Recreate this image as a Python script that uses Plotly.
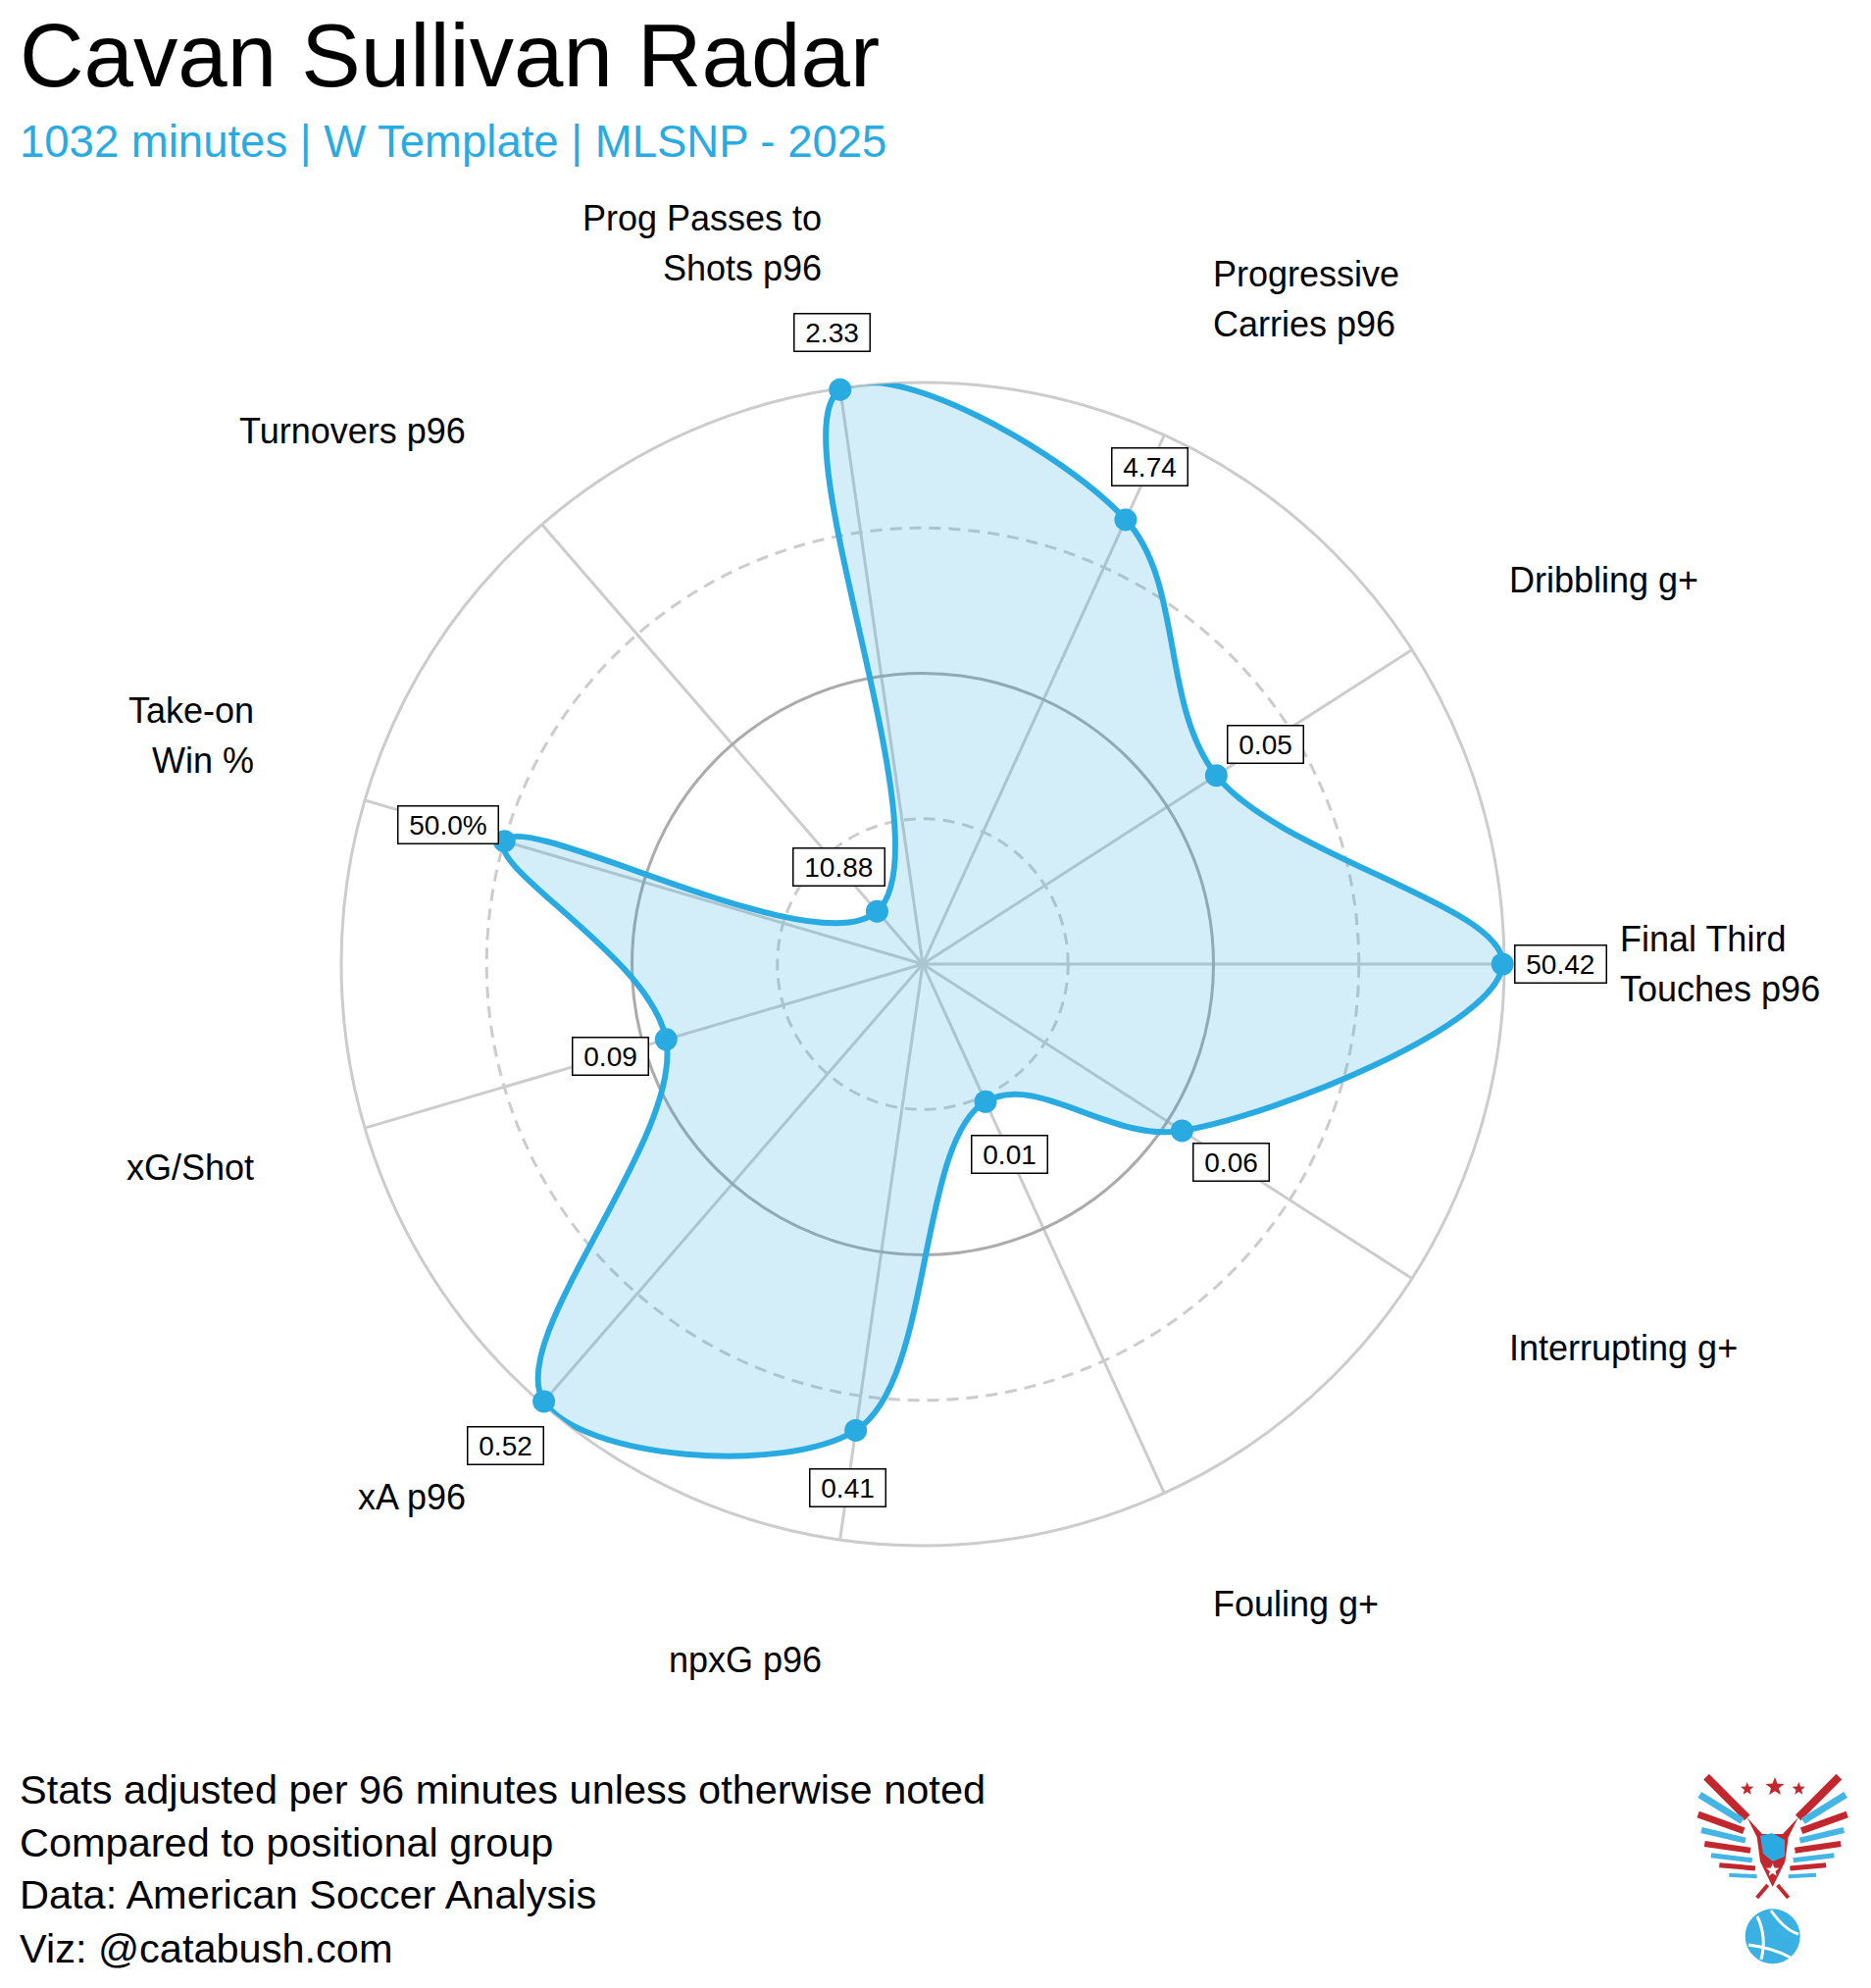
import math
import plotly.graph_objects as go

# ---------------- data ----------------
categories = ["Final Third Touches p96", "Dribbling g+", "Progressive Carries p96",
              "Prog Passes to Shots p96", "Turnovers p96", "Take-on Win %", "xG/Shot",
              "xA p96", "npxG p96", "Fouling g+", "Interrupting g+"]
axis_labels = ["Final Third\nTouches p96", "Dribbling g+", "Progressive\nCarries p96",
               "Prog Passes to\nShots p96", "Turnovers p96", "Take-on\nWin %", "xG/Shot",
               "xA p96", "npxG p96", "Fouling g+", "Interrupting g+"]
percentiles = [99.7, 60, 84, 99.8, 12, 75, 46, 99.5, 81, 26, 53]
stat_values = ["50.42", "0.05", "4.74", "2.33", "10.88", "50.0%", "0.09", "0.52", "0.41", "0.01", "0.06"]
solid_rings = [50]
dashed_rings = [25, 75]

title_text = "Cavan Sullivan Radar"
subtitle_text = "1032 minutes | W Template | MLSNP - 2025"
caption_lines = ["Stats adjusted per 96 minutes unless otherwise noted",
                 "Compared to positional group",
                 "Data: American Soccer Analysis",
                 "Viz: @catabush.com"]

# ---------------- layout constants ----------------
W, H = 1908, 2027
CX, CY, R = 941, 983, 593
BLUE = "#29abe2"
FONT = "Liberation Sans, Arial, sans-serif"
dom_x = [(CX - R) / W, (CX + R) / W]
dom_y = [1 - (CY + R) / H, 1 - (CY - R) / H]
# overlay cartesian frame (wider so that outer labels stay inside its range)
K = 1.5
cdom_x = [(CX - K * R) / W, (CX + K * R) / W]
cdom_y = [1 - (CY + K * R) / H, 1 - (CY - K * R) / H]


def px(x):
    return x / W


def py(y):
    return 1 - y / H


fig = go.Figure()
# helper (invisible) trace that gives the bottom polar its category spokes
fig.add_trace(go.Scatterpolar(r=percentiles, theta=categories, mode="markers",
                              marker=dict(opacity=0), hoverinfo="skip",
                              showlegend=False, subplot="polar"))
# filled smooth shape
fig.add_trace(go.Scatterpolar(r=percentiles + percentiles[:1], theta=categories + categories[:1],
                              mode="lines", line=dict(color=BLUE, width=6, shape="spline", smoothing=1),
                              fill="toself", fillcolor="rgba(41,171,226,0.2)", cliponaxis=False,
                              hoverinfo="skip", showlegend=False, subplot="polar2"))
fig.add_trace(go.Scatterpolar(r=percentiles, theta=categories, mode="markers",
                              marker=dict(color=BLUE, size=23), cliponaxis=False,
                              showlegend=False, subplot="polar2"))
# invisible cartesian trace so the overlay axes exist (used for annotations)
fig.add_trace(go.Scatter(x=[0], y=[0], mode="markers", marker=dict(opacity=0),
                         hoverinfo="skip", showlegend=False))

annots = []
n = len(categories)
for i in range(n):
    a = 2 * math.pi * i / n
    ca, sa = math.cos(a), math.sin(a)
    # value boxes
    rv = percentiles[i] + 10
    annots.append(dict(xref="x", yref="y", x=rv * ca, y=rv * sa,
                       text="\u00a0" + stat_values[i] + "\u00a0", showarrow=False,
                       xanchor="center", yanchor="middle",
                       font=dict(family=FONT, size=28, color="black"),
                       bgcolor="white", bordercolor="black", borderwidth=1.5, borderpad=3))
    # category labels
    rl = 119.5
    lines = axis_labels[i].split("\n")
    if ca > 0.05:
        xa = "left"
    elif ca < -0.05:
        xa = "right"
    else:
        xa = "center"
    LS = 51
    nl = len(lines)
    for k, line in enumerate(lines):
        if sa > 0.05:
            ys = 8 + (nl - 1 - k) * LS
        elif sa < -0.05:
            ys = -8 - k * LS
        else:
            ys = ((nl - 1) / 2 - k) * LS
        annots.append(dict(xref="x", yref="y", x=rl * ca, y=rl * sa, yshift=ys,
                           text=line, showarrow=False, xanchor=xa, yanchor="middle",
                           font=dict(family=FONT, size=36, color="black")))

# title, subtitle, caption
annots.append(dict(xref="paper", yref="paper", x=px(18), y=py(88.3 - 0.3465 * 90.7),
                   text=title_text, showarrow=False, xanchor="left", yanchor="middle",
                   font=dict(family=FONT, size=90.7, color="black")))
annots.append(dict(xref="paper", yref="paper", x=px(18), y=py(160 - 0.3465 * 45.5),
                   text=subtitle_text, showarrow=False, xanchor="left", yanchor="middle",
                   font=dict(family=FONT, size=45.5, color=BLUE)))
cap_base = [1839.3, 1892.5, 1946.3, 2000.7]
for b, line in zip(cap_base, caption_lines):
    annots.append(dict(xref="paper", yref="paper", x=px(18), y=py(b - 0.3465 * 41.5),
                       text=line, showarrow=False, xanchor="left", yanchor="middle",
                       font=dict(family=FONT, size=41.5, color="black")))

# ---------------- logo (decorative approximation) ----------------
RED = "#c1272d"
LB = "#45b5e6"
shapes = []


def star_path(cx, cy, ro, ri):
    pts = []
    for k in range(10):
        ang = math.pi / 2 + k * math.pi / 5
        rr = ro if k % 2 == 0 else ri
        pts.append((cx + rr * math.cos(ang), cy - rr * math.sin(ang)))
    return "M " + " L ".join(f"{px(x):.5f},{py(y):.5f}" for x, y in pts) + " Z"


def poly_path(pts):
    return "M " + " L ".join(f"{px(x):.5f},{py(y):.5f}" for x, y in pts) + " Z"


MX = 1807.7
stripes = [((1740, 1811.7), (1781.7, 1853.3), RED, 8),
           ((1733.3, 1830), (1776.7, 1856.7), LB, 7),
           ((1731.7, 1850), (1778.3, 1866.7), RED, 7),
           ((1735, 1866), (1780, 1876.7), LB, 6),
           ((1738.3, 1880), (1785, 1886.7), RED, 6),
           ((1745, 1891.7), (1786.7, 1896.7), LB, 5),
           ((1753.3, 1901.7), (1790, 1905), RED, 5),
           ((1763.3, 1911.7), (1791.7, 1913.3), LB, 4)]
for (x0, y0), (x1, y1), col, wd in stripes:
    for sgn in (1, -1):
        ax0 = MX + sgn * (x0 - MX)
        ax1 = MX + sgn * (x1 - MX)
        shapes.append(dict(type="line", xref="paper", yref="paper",
                           x0=px(ax0), y0=py(y0), x1=px(ax1), y1=py(y1),
                           line=dict(color=col, width=wd)))
# body
shapes.append(dict(type="path", xref="paper", yref="paper",
                   path=poly_path([(1781.7, 1853.3), (1791.7, 1873.3), (1795, 1898), (1807.7, 1924),
                                   (1820.4, 1898), (1823.7, 1873.3), (1833.7, 1853.3), (1818, 1870),
                                   (1797, 1870)]),
                   fillcolor=RED, line=dict(width=0)))
shapes.append(dict(type="path", xref="paper", yref="paper",
                   path=poly_path([(1795, 1872), (1807, 1869), (1820, 1876), (1820, 1893),
                                   (1807.7, 1898), (1798, 1890)]),
                   fillcolor=BLUE, line=dict(width=0)))
shapes.append(dict(type="path", xref="paper", yref="paper",
                   path=star_path(1807.7, 1907, 7, 3), fillcolor="white", line=dict(width=0)))
for sgn in (1, -1):
    shapes.append(dict(type="line", xref="paper", yref="paper",
                       x0=px(MX + sgn * 5), y0=py(1922), x1=px(MX + sgn * 16), y1=py(1935),
                       line=dict(color=RED, width=4)))
# stars
for sx, sy, so in [(1781.7, 1824, 7), (1810, 1822, 10), (1834.3, 1824, 7)]:
    shapes.append(dict(type="path", xref="paper", yref="paper",
                       path=star_path(sx, sy, so, so * 0.42), fillcolor=RED, line=dict(width=0)))
# ball
shapes.append(dict(type="circle", xref="paper", yref="paper",
                   x0=px(MX - 28), x1=px(MX + 28), y0=py(1974.3 + 28), y1=py(1974.3 - 28),
                   fillcolor="#3bb0e3", line=dict(width=0)))
for (x0, y0), (qx, qy), (x1, y1) in [((1792, 1954), (1802, 1975), (1796, 1998)),
                                     ((1806, 1948), (1820, 1968), (1834, 1972)),
                                     ((1783, 1983), (1808, 1986), (1826, 1996))]:
    shapes.append(dict(type="path", xref="paper", yref="paper",
                       path=f"M {px(x0):.5f},{py(y0):.5f} Q {px(qx):.5f},{py(qy):.5f} {px(x1):.5f},{py(y1):.5f}",
                       line=dict(color="white", width=3)))

ang_common = dict(type="category", direction="counterclockwise", rotation=0,
                  showticklabels=False, ticks="")

fig.update_layout(
    template="none",
    width=W, height=H, autosize=False,
    margin=dict(l=0, r=0, t=0, b=0),
    paper_bgcolor="white", plot_bgcolor="rgba(0,0,0,0)",
    showlegend=False,
    polar=dict(domain=dict(x=dom_x, y=dom_y), bgcolor="white", hole=0,
               radialaxis=dict(range=[0, 100], tickvals=solid_rings, showticklabels=False, ticks="",
                               showline=False, gridcolor="#ababab", gridwidth=2.6),
               angularaxis=dict(**ang_common, showline=True, linecolor="#cccccc", linewidth=3,
                                showgrid=True, gridcolor="#cccccc", gridwidth=2.6)),
    polar2=dict(domain=dict(x=dom_x, y=dom_y), bgcolor="rgba(0,0,0,0)", hole=0,
                radialaxis=dict(range=[0, 100], tickvals=dashed_rings, showticklabels=False, ticks="",
                                showline=False, gridcolor="#cccccc", gridwidth=3, griddash="12px,8px"),
                angularaxis=dict(**ang_common, showline=False, showgrid=False)),
    xaxis=dict(domain=cdom_x, range=[-100 * K, 100 * K], visible=False, fixedrange=True),
    yaxis=dict(domain=cdom_y, range=[-100 * K, 100 * K], visible=False, fixedrange=True),
    annotations=annots,
    shapes=shapes,
)

fig.write_html("out.html", config={"displayModeBar": False},
               post_script="document.body.style.margin='0';")
